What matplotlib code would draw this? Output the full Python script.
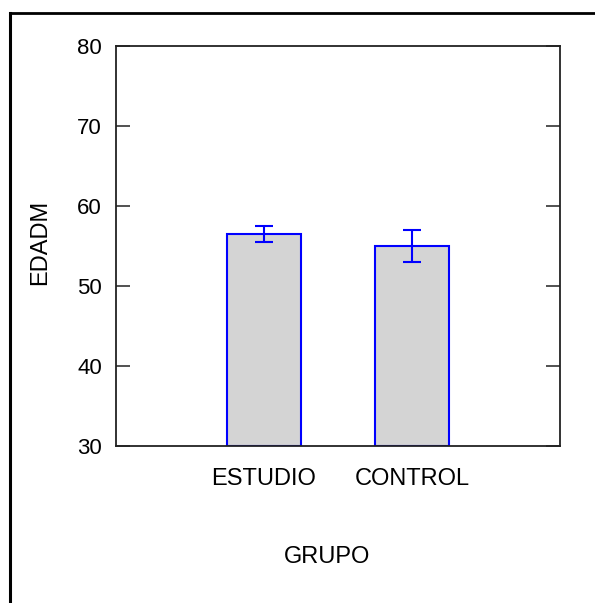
import matplotlib
matplotlib.use('Agg')
import matplotlib.pyplot as plt
from matplotlib.lines import Line2D

plt.rcParams['font.family'] = ['Liberation Sans', 'DejaVu Sans']

grupos = ['ESTUDIO', 'CONTROL']
medias = [56.5, 55.0]
errores = [1.0, 2.0]
yticks = [30, 40, 50, 60, 70, 80]

fig = plt.figure(figsize=(5.95, 6.03), dpi=100)
ax = fig.add_axes([116/595, 1 - 446/603, 444/595, 400/603])

x = [1, 2]
ax.bar(x, [m - 30 for m in medias], bottom=30, width=0.5, color='#d4d4d4',
       edgecolor='#0000ff', linewidth=1.5)
ax.errorbar(x, medias, yerr=errores, fmt='none', ecolor='#0000ff',
            elinewidth=1.5, capsize=6.5, capthick=1.5)

ax.set_xlim(0, 3)
ax.set_ylim(30, 80)
ax.set_yticks(yticks)
ax.set_xticks(x)
ax.set_xticklabels(grupos)
ax.tick_params(axis='y', direction='in', length=10, width=1.1, left=True,
               right=True, labelsize=16, pad=10, color='#222222')
ax.tick_params(axis='x', length=0, labelsize=17, pad=16)
for s in ax.spines.values():
    s.set_linewidth(1.3)
    s.set_color('#222222')

ax.set_xlabel('GRUPO', fontsize=17)
ax.xaxis.set_label_coords(0.476, -0.25)
ax.set_ylabel('EDADM', fontsize=17)
ax.yaxis.set_label_coords(-0.145, 0.51)

# marco exterior (solo arriba e izquierda)
fig.add_artist(Line2D([9.5/595, 1], [1 - 13/603, 1 - 13/603], color='black', lw=2, transform=fig.transFigure))
fig.add_artist(Line2D([9.5/595, 9.5/595], [0, 1 - 13/603], color='black', lw=2.2, transform=fig.transFigure))

fig.savefig('out.png', dpi=100)
